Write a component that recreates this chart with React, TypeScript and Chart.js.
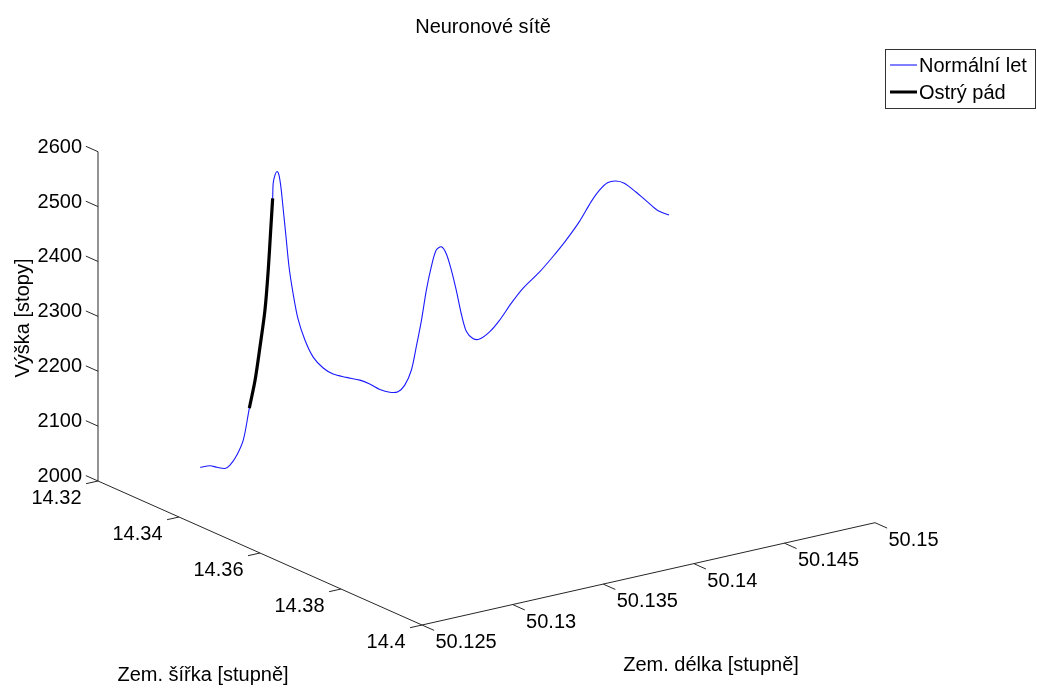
import React, { useEffect, useRef } from "react";
import { Chart, registerables } from "chart.js";

Chart.register(...registerables);

// ---- texts ----
const titleText = "Neuronové sítě";
const seriesNames = ["Normální let", "Ostrý pád"];
const latAxisTitle = "Zem. šířka [stupně]";
const lonAxisTitle = "Zem. délka [stupně]";
const altAxisTitle = "Výška [stopy]";

// ---- axes ----
const latTicks = [14.32, 14.34, 14.36, 14.38, 14.4];
const latTickLabels = ["14.32", "14.34", "14.36", "14.38", "14.4"];
const lonTicks = [50.125, 50.13, 50.135, 50.14, 50.145, 50.15];
const lonTickLabels = ["50.125", "50.13", "50.135", "50.14", "50.145", "50.15"];
const altTicks = [2000, 2100, 2200, 2300, 2400, 2500, 2600];
const altTickLabels = ["2000", "2100", "2200", "2300", "2400", "2500", "2600"];

// ---- flight track (lat, lon, altitude) ----
const latitude = [
  14.3275, 14.32833, 14.32891, 14.32958, 14.33, 14.33055, 14.3311, 14.3316,
  14.33208, 14.33249, 14.33291, 14.33318, 14.33338, 14.33355, 14.3336, 14.33374,
  14.33391, 14.33407, 14.33424, 14.33443, 14.33466, 14.3349, 14.33524, 14.33565,
  14.33624, 14.33693, 14.33776, 14.33859, 14.33971, 14.34081, 14.34164, 14.34248,
  14.34331, 14.344, 14.34456, 14.34511, 14.34553, 14.34595, 14.34636, 14.34678,
  14.34719, 14.34761, 14.34803, 14.34844, 14.34886, 14.34927, 14.34969, 14.35024,
  14.3508, 14.35163, 14.35246, 14.35343, 14.3544, 14.35579, 14.3569, 14.35801,
  14.35912, 14.36009, 14.36078, 14.36147, 14.36217, 14.36286, 14.36383, 14.3648,
  14.36563, 14.3666,
];
const longitude = [
  50.12896, 50.12932, 50.12958, 50.12987, 50.13005, 50.1303, 50.13054, 50.13076,
  50.13097, 50.13115, 50.13133, 50.13145, 50.13154, 50.13161, 50.13163, 50.1317,
  50.13177, 50.13184, 50.13191, 50.132, 50.1321, 50.13221, 50.13235, 50.13253,
  50.13279, 50.13309, 50.13346, 50.13382, 50.13431, 50.1348, 50.13516, 50.13553,
  50.13589, 50.13619, 50.13644, 50.13668, 50.13686, 50.13705, 50.13723, 50.13741,
  50.13759, 50.13778, 50.13796, 50.13814, 50.13832, 50.1385, 50.13869, 50.13893,
  50.13917, 50.13954, 50.1399, 50.14033, 50.14075, 50.14136, 50.14185, 50.14233,
  50.14282, 50.14325, 50.14355, 50.14385, 50.14416, 50.14446, 50.14489, 50.14531,
  50.14567, 50.1461,
];
const altitude = [
  2020, 2023, 2020, 2018, 2024, 2042, 2070, 2128,
  2179, 2240, 2307, 2380, 2452, 2510, 2538, 2553,
  2559, 2553, 2531, 2489, 2440, 2386, 2339, 2292,
  2252, 2221, 2201, 2190, 2184, 2179, 2172, 2162,
  2157, 2158, 2170, 2197, 2240, 2288, 2343, 2386,
  2416, 2422, 2409, 2380, 2343, 2301, 2268, 2255,
  2254, 2267, 2288, 2319, 2346, 2376, 2404, 2434,
  2468, 2504, 2525, 2539, 2542, 2538, 2522, 2504,
  2489, 2480,
];
// indices of the "sharp fall" part of the track
const fallFrom = 7;
const fallTo = 13;

// ---- 3D view (orthographic) ----
const latRange = [14.32, 14.4];
const lonRange = [50.125, 50.15];
const altRange = [2000, 2600];
const VIEW = {
  origin: [98, 481],
  latDir: [324, 144],
  lonDir: [453, -102.3],
  altDir: [0, -329.3],
};
const CANVAS_W = 1037;
const CANVAS_H = 689;
const FONT = '20px "Liberation Sans", Arial, Helvetica, sans-serif';

function project(lat: number, lon: number, alt: number) {
  const u = (lat - latRange[0]) / (latRange[1] - latRange[0]);
  const v = (lon - lonRange[0]) / (lonRange[1] - lonRange[0]);
  const w = (alt - altRange[0]) / (altRange[1] - altRange[0]);
  return {
    x: VIEW.origin[0] + u * VIEW.latDir[0] + v * VIEW.lonDir[0] + w * VIEW.altDir[0],
    y: VIEW.origin[1] + u * VIEW.latDir[1] + v * VIEW.lonDir[1] + w * VIEW.altDir[1],
  };
}

const trackPoints = latitude.map((la, i) => project(la, longitude[i], altitude[i]));
const fallPoints = trackPoints.slice(fallFrom, fallTo + 1);

const axes3dPlugin = {
  id: "axes3d",
  beforeDatasetsDraw(chart: any) {
    const { ctx, scales } = chart;
    const px = (p: { x: number; y: number }) => ({
      x: scales.x.getPixelForValue(p.x),
      y: scales.y.getPixelForValue(p.y),
    });
    const line = (a: any, b: any) => {
      const A = px(a), B = px(b);
      ctx.beginPath();
      ctx.moveTo(A.x, A.y);
      ctx.lineTo(B.x, B.y);
      ctx.stroke();
    };
    ctx.save();
    ctx.strokeStyle = "#262626";
    ctx.lineWidth = 1;
    const latTickLen = 0.003;
    const lonTickLen = 0.00066;
    const latLo = latRange[0], latHi = latRange[1];
    const lonLo = lonRange[0], lonHi = lonRange[1];
    const altLo = altRange[0], altHi = altRange[1];
    // z axis
    line(project(latLo, lonLo, altLo), project(latLo, lonLo, altHi));
    // lat axis
    line(project(latLo, lonLo, altLo), project(latHi, lonLo, altLo));
    // lon axis
    line(project(latHi, lonLo, altLo), project(latHi, lonHi, altLo));

    ctx.fillStyle = "#000";
    ctx.font = FONT;
    ctx.textBaseline = "middle";
    // z ticks
    ctx.textAlign = "right";
    altTicks.forEach((t, i) => {
      line(project(latLo, lonLo, t), project(latLo - latTickLen, lonLo, t));
      const p = px(project(latLo, lonLo, t));
      ctx.fillText(altTickLabels[i], p.x - 16, p.y - 4.5);
    });
    // lat ticks
    latTicks.forEach((t, i) => {
      line(project(t, lonLo, altLo), project(t, lonLo - lonTickLen, altLo));
      const p = px(project(t, lonLo, altLo));
      ctx.fillText(latTickLabels[i], p.x - 16.5, p.y + 17);
    });
    // lon ticks
    ctx.textAlign = "left";
    lonTicks.forEach((t, i) => {
      line(project(latHi, t, altLo), project(latHi + latTickLen, t, altLo));
      const p = px(project(latHi, t, altLo));
      ctx.fillText(lonTickLabels[i], p.x + 13.5, p.y + 17.5);
    });
    ctx.restore();
  },
  afterDraw(chart: any) {
    const { ctx } = chart;
    ctx.save();
    ctx.fillStyle = "#000";
    ctx.font = FONT;
    ctx.textBaseline = "middle";
    ctx.textAlign = "center";
    ctx.fillText(titleText, 483, 27);
    ctx.fillText(latAxisTitle, 203, 675);
    ctx.fillText(lonAxisTitle, 711, 665);
    ctx.save();
    ctx.translate(23, 318);
    ctx.rotate(-Math.PI / 2);
    ctx.fillText(altAxisTitle, 0, 0);
    ctx.restore();

    // legend
    ctx.fillStyle = "#fff";
    ctx.fillRect(885.5, 49.5, 150, 59);
    ctx.strokeStyle = "#333";
    ctx.lineWidth = 1;
    ctx.strokeRect(885.5, 49.5, 150, 59);
    const entries = [
      { name: seriesNames[0], color: "#0000ff", width: 1, y: 65 },
      { name: seriesNames[1], color: "#000000", width: 3, y: 92 },
    ];
    ctx.textAlign = "left";
    entries.forEach((e) => {
      ctx.strokeStyle = e.color;
      ctx.lineWidth = e.width;
      ctx.beginPath();
      ctx.moveTo(890, e.y);
      ctx.lineTo(917, e.y);
      ctx.stroke();
      ctx.fillStyle = "#000";
      ctx.fillText(e.name, 919, e.y + 1.5);
    });
    ctx.restore();
  },
};

export default function App() {
  const canvasRef = useRef<HTMLCanvasElement | null>(null);

  useEffect(() => {
    document.body.style.margin = "0";
    const canvas = canvasRef.current;
    if (!canvas) return;
    const chart = new Chart(canvas, {
      type: "scatter",
      data: {
        datasets: [
          {
            label: seriesNames[1],
            data: fallPoints,
            showLine: true,
            borderColor: "#000000",
            borderWidth: 3.2,
            pointRadius: 0,
            tension: 0.3,
            order: 0,
          },
          {
            label: seriesNames[0],
            data: trackPoints,
            showLine: true,
            borderColor: "#1a1aff",
            borderWidth: 1.1,
            pointRadius: 0,
            tension: 0.3,
            order: 1,
          },
        ],
      },
      options: {
        responsive: false,
        animation: false,
        devicePixelRatio: 1,
        layout: { padding: 0 },
        scales: {
          x: { type: "linear", min: 0, max: CANVAS_W, display: false },
          y: { type: "linear", min: 0, max: CANVAS_H, reverse: true, display: false },
        },
        plugins: {
          legend: { display: false },
          title: { display: false },
          tooltip: { enabled: false },
        },
      },
      plugins: [axes3dPlugin],
    });
    return () => chart.destroy();
  }, []);

  return (
    <div style={{ position: "absolute", left: 0, top: 0, width: CANVAS_W, height: CANVAS_H, background: "#fff" }}>
      <canvas ref={canvasRef} width={CANVAS_W} height={CANVAS_H} />
    </div>
  );
}
